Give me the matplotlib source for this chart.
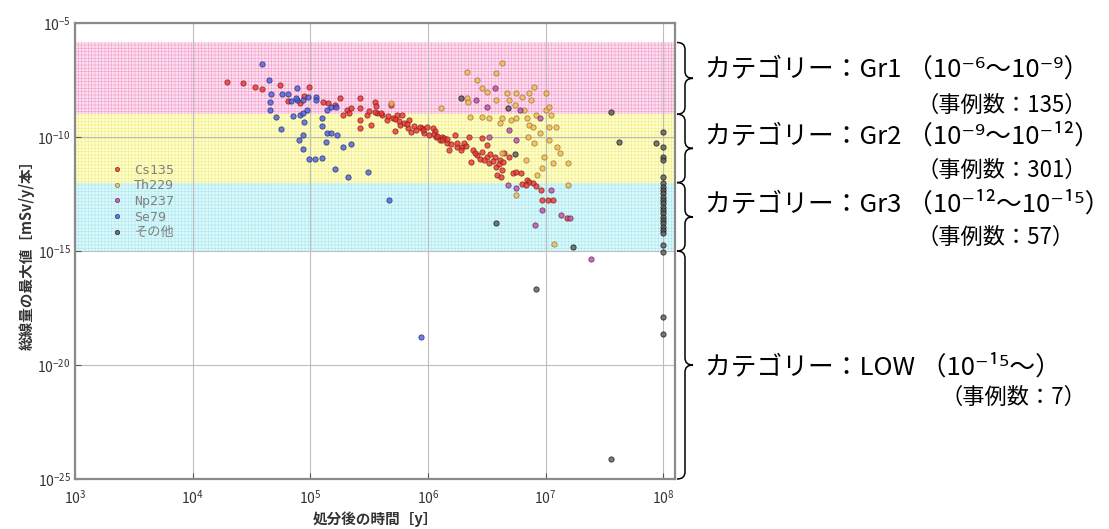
import numpy as np
import matplotlib.pyplot as plt
from matplotlib.path import Path
from matplotlib.patches import PathPatch
from matplotlib.transforms import IdentityTransform

plt.rcParams['font.family'] = ['Noto Sans CJK JP', 'DejaVu Sans']
plt.rcParams['hatch.linewidth'] = 0.4

# values, as log10 exponents (time [y], dose [mSv/y/本])
cs135_t = [4.29, 4.43, 4.53, 4.59, 4.74, 4.99, 4.81, 4.91, 4.95, 5.11, 5.15, 5.21, 5.25, 5.31,
           5.28, 5.33, 5.35, 5.42, 5.42, 5.42, 5.42, 5.48, 5.52, 5.55, 5.56, 5.57, 5.61, 5.65,
           5.69, 5.70, 5.72, 5.74, 5.76, 5.78, 5.80, 5.83, 5.84, 5.86, 5.90, 5.95, 5.97, 5.99,
           6.01, 6.04, 6.06, 6.07, 6.10, 6.12, 6.14, 6.16, 6.18, 6.23, 6.25, 6.29, 6.31, 6.35,
           6.38, 6.42, 6.46, 6.50, 6.50, 6.52, 6.57, 6.58, 6.61, 6.63, 6.65, 6.69, 6.72, 6.75,
           6.79, 6.84, 6.86, 6.89, 6.59, 6.62, 6.37, 6.46, 6.80, 6.83, 6.92, 6.96, 6.97, 7.02,
           7.06, 7.18, 5.50, 5.55, 5.60, 5.66, 5.72, 5.75, 5.82, 5.88, 5.93, 5.96, 6.05, 6.08,
           6.12, 6.16, 6.20, 6.25, 6.28, 6.32, 6.40, 6.44, 6.48, 6.53, 6.55, 6.60, 6.64]
cs135_dose = [-7.59, -7.63, -7.81, -7.89, -7.72, -7.81, -8.42, -8.51, -8.20, -8.46, -8.51, -8.60,
              -8.29, -8.82, -9.04, -8.95, -8.73, -8.29, -8.73, -9.25, -9.61, -9.04, -9.47, -8.46,
              -8.64, -8.95, -9.04, -9.25, -8.60, -9.17, -9.74, -9.04, -9.47, -9.04, -9.39, -9.61,
              -9.25, -9.78, -9.69, -9.61, -9.82, -9.56, -9.91, -9.61, -9.75, -10.00, -10.13,
              -10.00, -10.04, -10.26, -10.57, -9.91, -10.44, -10.44, -10.26, -10.00, -10.57,
              -10.79, -10.66, -10.88, -10.35, -11.14, -10.88, -11.32, -11.01, -11.45, -10.70,
              -10.88, -11.58, -11.54, -11.58, -11.89, -11.97, -12.02, -11.67, -11.75, -11.10,
              -10.04, -12.05, -12.10, -12.15, -12.32, -12.76, -12.76, -12.76, -13.55, -8.85,
              -8.90, -8.95, -9.10, -9.20, -9.30, -9.45, -9.50, -9.55, -9.70, -9.85, -9.95,
              -10.15, -10.10, -10.30, -10.25, -10.55, -10.40, -10.70, -10.95, -11.00, -10.75,
              -11.05, -11.20, -11.10]

th229_t = [6.33, 6.42, 6.58, 6.63, 6.46, 6.50, 6.58, 6.33, 6.34, 6.67, 6.69, 6.75, 6.80, 6.86,
           6.88, 6.90, 7.00, 6.46, 6.52, 6.63, 6.71, 6.75, 6.84, 6.86, 6.92, 7.00, 7.03, 7.05,
           6.89, 6.95, 7.03, 7.09, 6.85, 6.90, 7.03, 7.10, 7.12, 6.99, 7.06, 7.19, 6.63, 6.83,
           6.93, 6.97, 7.19, 7.07, 6.75, 6.11, 5.69, 6.36, 6.61, 6.74, 6.82]
th229_dose = [-7.15, -7.50, -7.19, -6.75, -7.85, -8.03, -8.38, -8.29, -8.46, -8.07, -8.38, -8.07,
              -8.25, -8.07, -8.38, -7.81, -8.07, -9.12, -9.17, -9.17, -9.25, -9.17, -9.17, -9.47,
              -9.04, -8.82, -8.68, -9.04, -9.56, -9.82, -9.56, -9.56, -10.00, -10.26, -10.13,
              -10.44, -10.70, -10.88, -11.14, -11.14, -10.70, -11.01, -11.67, -11.36, -12.11,
              -14.69, -12.54, -8.73, -8.51, -9.12, -9.39, -8.60, -8.82]

np237_t = [6.68, 6.75, 7.05, 6.97, 7.13, 7.21, 6.91, 7.39, 6.57, 6.41, 6.78, 6.52, 6.69, 6.75,
           6.50, 6.95]
np237_dose = [-12.11, -12.24, -12.32, -13.20, -13.42, -13.55, -13.86, -15.35, -7.85, -8.38,
              -8.82, -10.00, -9.69, -10.13, -8.68, -9.17]

se79_t = [4.59, 4.65, 4.67, 4.66, 4.66, 4.71, 4.75, 4.76, 4.81, 4.85, 4.89, 4.89, 4.94, 4.91,
          4.94, 4.95, 4.97, 4.98, 4.90, 4.94, 4.94, 4.99, 5.04, 5.10, 5.05, 5.05, 5.10, 5.10,
          5.14, 5.14, 5.18, 5.13, 5.23, 5.28, 5.35, 5.21, 5.32, 5.49, 5.67, 5.94, 4.84, 4.88,
          5.18, 5.22]
se79_dose = [-6.80, -7.50, -8.11, -8.46, -8.82, -9.12, -9.65, -8.11, -8.11, -9.08, -7.85, -8.38,
             -8.38, -9.04, -8.95, -9.34, -8.82, -8.25, -10.13, -9.91, -10.53, -10.96, -10.96,
             -10.92, -8.25, -8.38, -9.17, -9.52, -8.82, -9.82, -9.82, -10.22, -9.91, -10.44,
             -10.31, -11.40, -11.75, -11.54, -12.76, -18.77, -8.42, -8.29, -8.68, -8.68]

other_t = [8.0] * 25 + [6.28, 6.68, 6.74, 6.58, 7.23, 7.62, 7.94, 7.56, 6.92, 7.56]
other_dose = [-9.78, -10.44, -10.88, -11.01, -11.75, -12.02, -12.19, -12.32, -12.46, -12.63,
              -12.76, -12.89, -13.07, -13.20, -13.33, -13.51, -13.64, -13.77, -13.95, -14.08,
              -14.21, -14.74, -15.04, -17.89, -18.64,
              -8.29, -8.73, -10.75, -13.77, -14.82, -10.22, -10.26, -8.90, -16.67, -24.12]

# category bands: dose edges, fills
band_edges = [1.4e-6, 1e-9, 1e-12, 1e-15, 1e-25]
band_face = ['#fde0ef', '#ffffc8', '#dcf8fa', 'none']
band_hatch = ['#f59ccb', '#f0ea90', '#a8e8f0', 'none']
cat_names = ['Gr1', 'Gr2', 'Gr3', 'LOW']
cat_ranges = ['（10⁻⁶～10⁻⁹）', '（10⁻⁹～10⁻¹²）', '（10⁻¹²～10⁻¹⁵）', '（10⁻¹⁵～）']
cat_counts = [135, 301, 57, 7]

W, H = 1109, 529
fig = plt.figure(figsize=(W / 100, H / 100), dpi=100)
ax = fig.add_axes([75 / W, 1 - 479 / H, 600 / W, 456 / H])
ax.set_xscale('log')
ax.set_yscale('log')
ax.set_xlim(1e3, 10 ** 8.1)
ax.set_ylim(1e-25, 1e-5)

for i in range(3):
    ax.axhspan(band_edges[i + 1], band_edges[i], facecolor=band_face[i],
               edgecolor=band_hatch[i], hatch='+++++', lw=0, zorder=0.2)

ax.set_xticks([1e3, 1e4, 1e5, 1e6, 1e7, 1e8])
ax.set_yticks([1e-25, 1e-20, 1e-15, 1e-10, 1e-5])
ax.minorticks_off()
ax.grid(True, color='#bdbdbd', lw=0.8)
ax.set_axisbelow(True)
ax.tick_params(direction='in', length=4, color='#555555', labelcolor='#333333',
               labelsize=10, pad=3)
ax.tick_params(axis='x', pad=7)
for s in ax.spines.values():
    s.set_color('#8a8a8a')
    s.set_linewidth(1.6)

series = [
    ('Cs135', cs135_t, cs135_dose, '#ef3030', '#7a2020'),
    ('Th229', th229_t, th229_dose, '#f7b84a', '#8c7040'),
    ('Np237', np237_t, np237_dose, '#c24aa8', '#5a2a55'),
    ('Se79', se79_t, se79_dose, '#4a5fe0', '#202a70'),
    ('その他', other_t, other_dose, '#5a5a5a', '#111111'),
]
for name, t, d, fc, ec in series:
    ax.plot(10.0 ** np.array(t), 10.0 ** np.array(d), ls='none', marker='o', ms=3.8,
            mfc=fc, mec=ec, mew=0.6, alpha=0.8, label=name, zorder=3)

leg = ax.legend(loc='upper left', bbox_to_anchor=(0.036, 0.716), markerscale=0.8,
                prop={'family': ['DejaVu Sans Mono', 'Noto Sans CJK JP'], 'size': 9.5},
                handletextpad=0.6, labelspacing=0.2, borderpad=0.35,
                handlelength=1.4, fancybox=False, framealpha=0)
leg.get_frame().set_edgecolor('#555555')
leg.get_frame().set_linewidth(0.8)
for txt in leg.get_texts():
    txt.set_color('#808080')

ax.set_xlabel('処分後の時間［y］', fontsize=10.5, color='#333333', fontweight='bold', labelpad=3)
ax.set_ylabel('総線量の最大値［mSv/y/本］', fontsize=10.5, color='#333333',
              fontweight='bold', labelpad=2)


def brace(y_top, y_bot, x0=677, w=8, r=7):
    # y_top / y_bot are doses; drawn in display pixels
    yt = ax.transData.transform((1e3, y_top))[1]
    yb = ax.transData.transform((1e3, y_bot))[1]
    ym = (yt + yb) / 2
    xv = x0 + w
    verts = [(x0, yt), (xv, yt), (xv, yt - r), (xv, ym + r), (xv, ym), (xv + w, ym),
             (xv, ym), (xv, ym - r), (xv, yb + r), (xv, yb), (x0, yb)]
    codes = [Path.MOVETO, Path.CURVE3, Path.CURVE3, Path.LINETO, Path.CURVE3, Path.CURVE3,
             Path.CURVE3, Path.CURVE3, Path.LINETO, Path.CURVE3, Path.CURVE3]
    fig.add_artist(PathPatch(Path(verts, codes), fill=False, lw=1.1, color='black',
                             transform=IdentityTransform()))


for i in range(4):
    brace(band_edges[i], band_edges[i + 1])

line1_y = [70, 137, 205, 368]
line2_y = [105, 170, 237, 397]
line2_x = [916, 916, 916, 940]
for i in range(4):
    fig.text(705 / W, 1 - line1_y[i] / H, 'カテゴリー：' + cat_names[i] + ' ' + cat_ranges[i],
             fontsize=18.5, va='center', ha='left', color='black')
    fig.text(line2_x[i] / W, 1 - line2_y[i] / H, '（事例数：%d）' % cat_counts[i],
             fontsize=16, va='center', ha='left', color='black')

fig.savefig('out.png', dpi=100)
